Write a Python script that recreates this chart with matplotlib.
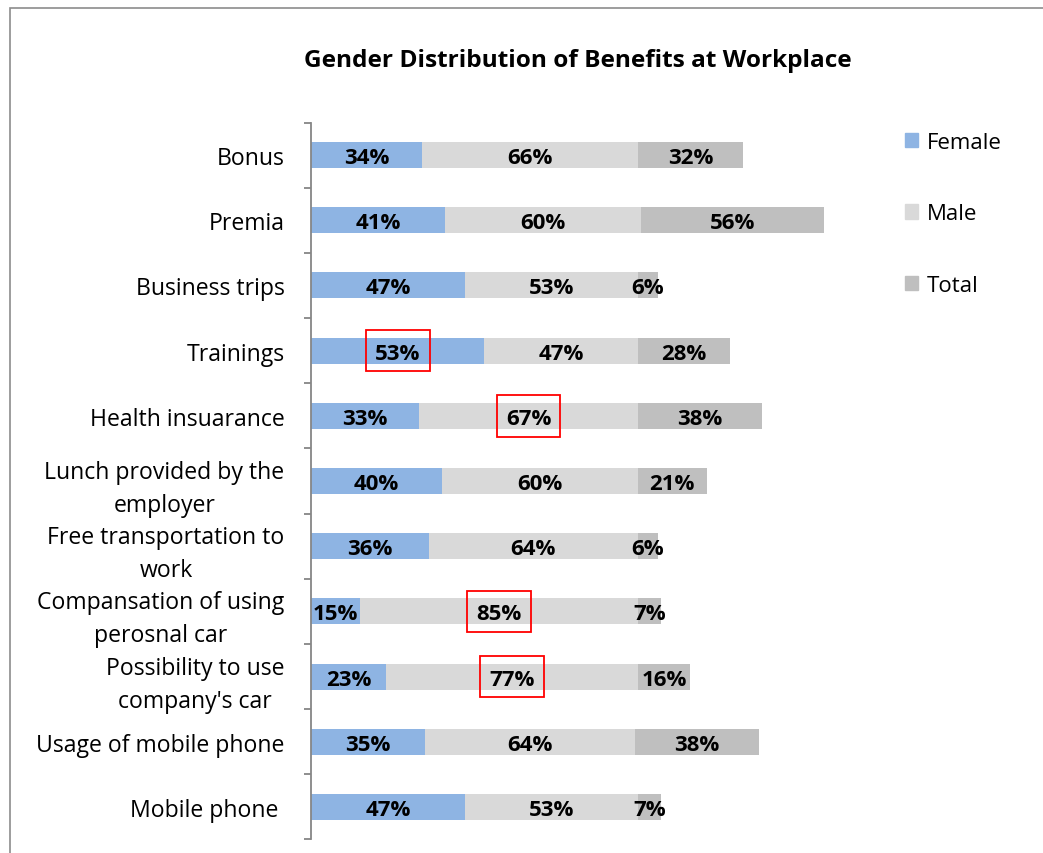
import matplotlib
matplotlib.use("Agg")
import matplotlib.pyplot as plt
from matplotlib.patches import Rectangle, Patch

plt.rcParams['font.family'] = ['Open Sans', 'DejaVu Sans']

categories = ["Bonus", "Premia", "Business trips", "Trainings", "Health insuarance",
              "Lunch provided by the\nemployer", "Free transportation to\nwork",
              "Compansation of using\nperosnal car", "Possibility to use\ncompany's car",
              "Usage of mobile phone", "Mobile phone "]
female = [34, 41, 47, 53, 33, 40, 36, 15, 23, 35, 47]
male = [66, 60, 53, 47, 67, 60, 64, 85, 77, 64, 53]
total = [32, 56, 6, 28, 38, 21, 6, 7, 16, 38, 7]

# (row, series) pairs whose labels get a red box
highlight = [(3, "Female"), (4, "Male"), (7, "Male"), (8, "Male")]

c_female = "#8EB4E3"
c_male = "#D9D9D9"
c_total = "#BFBFBF"
axis_grey = "#868686"

W, H = 1043, 854
fig = plt.figure(figsize=(W / 100, H / 100), dpi=100)
ax = fig.add_axes([311 / W, 1 - 840.5 / H, 170 * 3.27 / W, (840.5 - 123.5) / H])

y = list(range(len(categories)))
h = 0.4
left_male = female
left_total = [f + m for f, m in zip(female, male)]

ax.barh(y, female, height=h, color=c_female, label="Female")
ax.barh(y, male, left=left_male, height=h, color=c_male, label="Male")
ax.barh(y, total, left=left_total, height=h, color=c_total, label="Total")

centers = {}
for name, vals, lefts in [("Female", female, [0] * len(y)),
                          ("Male", male, left_male),
                          ("Total", total, left_total)]:
    for i, (v, l) in enumerate(zip(vals, lefts)):
        cx = l + v / 2
        centers[(i, name)] = cx
        ax.text(cx, i, f"{v}%", ha="center", va="center_baseline",
                fontsize=16, fontweight="bold", color="black")

for i, name in highlight:
    bw, bh = 19.5, 0.64
    ax.add_patch(Rectangle((centers[(i, name)] - bw / 2, i - bh / 2), bw, bh,
                           fill=False, edgecolor="red", linewidth=1.3, zorder=5))

ax.set_xlim(0, 170)
ax.set_ylim(len(y) - 0.5, -0.5)
ax.set_yticks(y)
ax.set_yticklabels(categories, fontsize=16.6, linespacing=1.5)
for lbl in ax.get_yticklabels():
    lbl.set_multialignment("center")
ax.set_yticks([k - 0.5 for k in range(len(y) + 1)], minor=True)
ax.tick_params(axis="y", which="major", length=0, pad=19)
ax.tick_params(axis="y", which="minor", length=5, width=1.3, color=axis_grey)
ax.set_xticks([])
for s in ["top", "right", "bottom"]:
    ax.spines[s].set_visible(False)
ax.spines["left"].set_color(axis_grey)
ax.spines["left"].set_linewidth(1.3)

fig.text(578 / W, 1 - 61 / H, "Gender Distribution of Benefits at Workplace",
         ha="center", va="center", fontsize=17.6, fontweight="bold")

ax.legend(handles=[Patch(color=c_female, label="Female"),
                   Patch(color=c_male, label="Male"),
                   Patch(color=c_total, label="Total")],
          loc="upper left", bbox_to_anchor=(896 / W, 1 - 124 / H),
          bbox_transform=fig.transFigure, frameon=False, fontsize=16,
          handlelength=0.6, handleheight=0.6, handletextpad=0.4,
          labelspacing=2.27, borderaxespad=0)

# chart-area border, open at the right and bottom
fig.add_artist(Rectangle((9.5 / W, -0.1), 1.2, 1.1 - 8.5 / H, transform=fig.transFigure,
                         fill=False, edgecolor="#8C8C8C", linewidth=1.2))

fig.savefig("out.png", dpi=100)
